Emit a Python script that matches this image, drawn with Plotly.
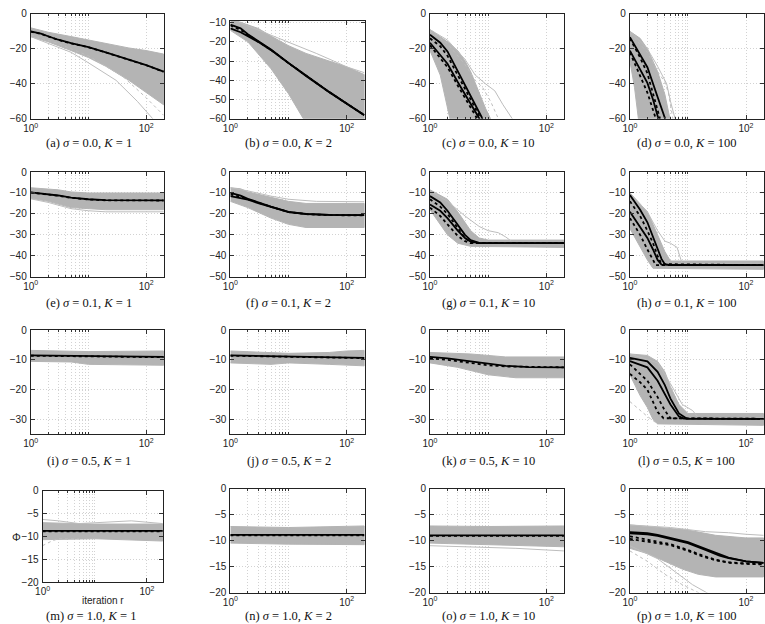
import plotly.graph_objects as go

W, H = 765, 624

# ---------------- labels / axes -----------------
sigmas = [0.0, 0.1, 0.5, 1.0]
Ks = [1, 2, 10, 100]
letters = "abcdefghijklmnop"
x_tick_vals = [1, 100]
x_tick_text = ["10<sup>0</sup>", "10<sup>2</sup>"]
x_minor_grid = [2, 3, 4, 5, 6, 7, 8, 9, 10]
y_ticks_row1 = [0, -20, -40, -60]
y_ticks_b = [-10, -20, -30, -40, -50, -60]
y_ticks_row2 = [0, -10, -20, -30, -40, -50]
y_ticks_row3 = [0, -10, -20, -30]
y_ticks_row4 = [0, -5, -10, -15, -20]
y_range_row1 = [-60, 0]
y_range_b = [-60, -9]
y_range_row2 = [-50, 0]
y_range_row3 = [-35, 0]
y_range_row4 = [-20, 0]
x_label = "iteration r"
y_label = "Φ"

# ---------------- data -------------------------------------
# (a) sigma 0.0, K 1
a_hi_x = [1, 2, 5, 10, 20, 50, 100, 200]; a_hi_y = [-8, -10.5, -13, -15, -17, -19.5, -21, -23]
a_lo_x = [1, 2, 5, 10, 20, 50, 100, 200]; a_lo_y = [-13, -16, -21, -25, -30, -38, -45, -52]
a_extra = [([1, 5, 10, 30, 70, 130], [-13, -22, -28, -38, -50, -60]),
           ([1, 3, 10, 40, 100, 200], [-12, -17, -24, -36, -48, -58])]
a_solid = [([1, 1.5, 2, 3, 5, 10, 20, 50, 100, 200], [-10, -11.3, -12.8, -14.8, -16.8, -19, -22, -26, -29.3, -33])]
a_dotted = [([1, 1.5, 2, 3, 5, 10, 20, 50, 100, 200], [-10.2, -11.4, -12.9, -14.9, -16.9, -19.1, -22.1, -26.1, -29.4, -33.1])]

# (b) sigma 0.0, K 2
b_hi_x = [1, 2, 3, 5, 10, 20, 50, 100, 200]; b_hi_y = [-8, -11, -13, -17, -22, -26, -30, -33, -37]
b_lo_x = [1, 2, 3, 5, 10, 18, 200]; b_lo_y = [-14, -20, -26, -34, -47, -60, -60]
b_extra = [([1, 10, 30, 60, 100, 200], [-8, -20, -26, -30, -33, -36])]
b_solid = [([1, 1.5, 2, 3, 5, 10, 20, 50, 100, 200], [-11, -13, -16, -19.5, -24, -31, -37.5, -46, -52, -58]),
           ([1, 1.5, 2, 3, 5, 10, 20, 50, 100, 200], [-13, -15, -17, -20, -24.3, -31.2, -37.7, -46.2, -52.2, -58.2])]
b_dotted = [([1, 1.5, 2, 3, 5, 10, 20, 50, 100, 200], [-11.5, -13.8, -16.4, -19.8, -24.2, -31.1, -37.6, -46.1, -52.1, -58.1])]

# (c) sigma 0.0, K 10
c_hi_x = [1, 2, 3, 4, 5, 7, 9, 11]; c_hi_y = [-9, -16, -21, -27, -33, -45, -54, -60]
c_lo_x = [1, 1.5, 2.2]; c_lo_y = [-21, -35, -60]
c_extra = [([1, 2, 4, 6, 9, 13, 18, 26], [-9, -15, -26, -35, -40, -44, -52, -60]),
           ([1, 2, 4, 6, 8, 11, 15], [-10, -17, -29, -38, -42, -50, -60])]
c_solid = [([1, 1.5, 2, 3, 5, 8], [-12, -16.5, -21.5, -32.5, -47, -60]),
           ([1, 1.5, 2, 3, 5, 7.1], [-16.5, -23.5, -28.5, -39, -51.5, -60])]
c_dotted = [([1, 1.5, 2, 3, 5, 7.5], [-14, -18.5, -24, -35, -49, -60]),
            ([1, 1.5, 2, 3, 5, 6.5], [-18, -25, -30.5, -41, -54, -60])]

# (d) sigma 0.0, K 100
d_hi_x = [1, 1.5, 2, 3, 4, 4.9]; d_hi_y = [-10, -14, -20, -33, -46, -60]
d_lo_x = [1, 1.2, 1.4]; d_lo_y = [-27, -42, -60]
d_extra = [([1, 2, 3, 4.3, 5, 6], [-10, -20, -30, -40, -50, -60]),
           ([1, 2, 3, 4, 4.6, 5.5], [-11, -22, -33, -39, -45, -60])]
d_solid = [([1, 1.5, 2, 3, 4.05], [-13.3, -23, -30.5, -47.5, -60]),
           ([1, 1.5, 2, 2.5, 3.1], [-21, -32, -39.5, -49, -60])]
d_dotted = [([1, 1.5, 2, 2.5, 3.3], [-14, -25, -34, -45, -60]),
            ([1, 1.5, 2, 2.8], [-22, -35, -45, -60])]

# (e) sigma 0.1, K 1
e_hi_x = [1, 3, 5, 10, 200]; e_hi_y = [-7.5, -8.5, -9.5, -10, -10]
e_lo_x = [1, 2, 5, 10, 20, 200]; e_lo_y = [-12.5, -14, -17, -17.5, -18, -18]
e_extra = [([1, 2, 5, 10, 20, 200], [-12.8, -14.5, -17.5, -18.5, -19, -19])]
e_solid = [([1, 2, 3, 5, 10, 20, 50, 200], [-9.7, -10.5, -11.2, -12.2, -13, -13.4, -13.5, -13.5])]
e_dotted = [([1, 2, 3, 5, 10, 20, 50, 200], [-9.8, -10.6, -11.3, -12.3, -13.1, -13.5, -13.6, -13.6])]

# (f) sigma 0.1, K 2
f_hi_x = [1, 1.5, 2, 5, 10, 20, 200]; f_hi_y = [-7.5, -8, -9.5, -12, -14, -15, -15]
f_lo_x = [1, 2, 5, 10, 20, 200]; f_lo_y = [-14, -17, -22, -25, -26.5, -26.5]
f_extra = [([1, 2, 5, 10, 30, 200], [-7.5, -9, -11.5, -13, -14, -14.2])]
f_solid = [([1, 1.5, 2, 3, 5, 10, 20, 50, 200], [-10, -11.3, -12.8, -14.5, -16.5, -19, -20, -20.5, -20.6]),
           ([1, 1.5, 2, 3, 5, 10, 20, 50, 200], [-11.5, -12.3, -13.2, -14.8, -16.7, -19.1, -20.1, -20.5, -20.6])]
f_dotted = [([1, 1.5, 2, 3, 5, 10, 20, 50, 200], [-10.7, -11.8, -13, -14.7, -16.6, -19.1, -20.1, -20.6, -20.7])]

# (g) sigma 0.1, K 10
g_hi_x = [1, 2, 3, 4, 5, 7, 10, 200]; g_hi_y = [-8.5, -13, -19, -24, -28, -31.5, -32.5, -32.5]
g_lo_x = [1, 1.5, 2, 3, 5, 200]; g_lo_y = [-18, -25, -30, -34, -35.5, -36]
g_extra = [([1, 2, 4, 7, 10, 15, 20, 25], [-9, -14, -21, -26, -28, -29, -31, -33])]
g_solid = [([1, 1.5, 2, 3, 4, 5, 7, 10, 200], [-11.5, -14.5, -18.5, -25, -30, -32.5, -33.8, -34, -34]),
           ([1, 1.5, 2, 3, 4, 5, 7, 200], [-15.5, -18.5, -22, -28, -31.5, -33.3, -34, -34])]
g_dotted = [([1, 1.5, 2, 3, 4, 5, 7, 200], [-13, -16.5, -20, -27, -31.5, -33.5, -34, -34]),
            ([1, 1.5, 2, 3, 4, 5, 200], [-17, -21, -25, -30.5, -33, -34, -34])]

# (h) sigma 0.1, K 100
h_hi_x = [1, 2, 3, 4, 5, 200]; h_hi_y = [-10, -19, -30, -38, -42.5, -42.5]
h_lo_x = [1, 1.5, 2, 2.5, 200]; h_lo_y = [-27, -36, -42, -46, -46.5]
h_extra = [([1, 2, 3, 4, 5, 6.5, 8, 200], [-10, -19, -28, -33, -34, -36, -44, -44])]
h_solid = [([1, 1.5, 2, 3, 3.5, 4, 5, 200], [-11, -18, -24, -36.5, -41.5, -44, -44.5, -44.5]),
           ([1, 1.5, 2, 2.5, 3, 3.5, 200], [-19, -26, -31.5, -37, -42, -44.2, -44.5])]
h_dotted = [([1, 1.5, 2, 2.5, 3, 3.5, 200], [-14, -21, -28, -34, -40, -44, -44.5]),
            ([1, 1.5, 2, 2.5, 2.8, 200], [-22, -30, -37, -42.5, -44.5, -44.5])]

# (i) sigma 0.5, K 1
i_hi_x = [1, 10, 200]; i_hi_y = [-6.8, -7.2, -7]
i_lo_x = [1, 5, 10, 200]; i_lo_y = [-10.5, -10.7, -11.5, -11.8]
i_extra = []
i_solid = [([1, 10, 200], [-8.5, -8.8, -9.0])]
i_dotted = [([1, 10, 200], [-8.6, -8.9, -9.1])]

# (j) sigma 0.5, K 2
j_hi_x = [1, 10, 50, 100, 200]; j_hi_y = [-7, -7.8, -7.5, -7, -6.8]
j_lo_x = [1, 5, 10, 50, 200]; j_lo_y = [-11, -11.5, -11, -11.5, -12]
j_extra = []
j_solid = [([1, 10, 200], [-8.5, -8.9, -9.3])]
j_dotted = [([1, 10, 200], [-8.6, -9.0, -9.4])]

# (k) sigma 0.5, K 10
k_hi_x = [1, 5, 20, 200]; k_hi_y = [-7.5, -8, -9, -9]
k_lo_x = [1, 3, 10, 30, 200]; k_lo_y = [-11, -12.5, -15, -16, -16]
k_extra = []
k_solid = [([1, 2, 5, 10, 20, 50, 200], [-9, -9.5, -10.5, -11.2, -12, -12.4, -12.5])]
k_dotted = [([1, 2, 5, 10, 20, 50, 200], [-9.5, -10, -11, -11.8, -12.2, -12.4, -12.5])]

# (l) sigma 0.5, K 100
l_hi_x = [1, 2, 3, 4, 5, 7, 10, 200]; l_hi_y = [-8, -8.5, -10.5, -14, -19, -25, -28, -28]
l_lo_x = [1, 1.5, 2, 2.5, 3, 200]; l_lo_y = [-15, -22, -26, -30, -31.5, -32]
l_extra = [([1, 3, 5, 8, 12, 16], [-8, -11, -18, -25, -27, -30]),
           ([1, 1.5, 2, 3], [-24, -27, -29, -31.5])]
l_solid = [([1, 2, 3, 4, 5, 7, 9.5, 200], [-9.3, -10.5, -14, -18.5, -23, -28, -29.7, -29.8]),
           ([1, 2, 3, 4, 5, 7, 8.5, 200], [-10.4, -12.5, -17, -21.5, -25, -29, -29.7, -29.8])]
l_dotted = [([1, 2, 3, 4, 5, 200], [-11.5, -17, -22.5, -27, -29.6, -29.8]),
            ([1, 1.5, 2, 2.5, 3, 3.8, 200], [-14.7, -17.5, -20, -24, -27.5, -29.6, -29.8])]

# (m) sigma 1.0, K 1
m_hi_x = [1, 10, 200]; m_hi_y = [-7, -7.3, -7.3]
m_lo_x = [1, 10, 200]; m_lo_y = [-10.7, -10.5, -11]
m_extra = [([1, 2, 5, 20, 50, 200], [-6.3, -6.6, -7.2, -6.8, -6.6, -7.2]),
           ([1, 1.5, 2, 5], [-12, -11, -10.5, -10.5])]
m_solid = [([1, 10, 200], [-8.8, -8.8, -8.8])]
m_dotted = [([1, 10, 200], [-8.9, -8.9, -8.9])]

# (n) sigma 1.0, K 2
n_hi_x = [1, 10, 200]; n_hi_y = [-7.3, -7.5, -7.2]
n_lo_x = [1, 10, 200]; n_lo_y = [-10.5, -10.7, -10.8]
n_extra = []
n_solid = [([1, 10, 200], [-8.9, -8.9, -8.9])]
n_dotted = [([1, 10, 200], [-9.0, -9.0, -9.0])]

# (o) sigma 1.0, K 10
o_hi_x = [1, 10, 200]; o_hi_y = [-7.2, -7.3, -7.2]
o_lo_x = [1, 10, 200]; o_lo_y = [-10.5, -10.8, -11.2]
o_extra = [([1, 30, 200], [-11, -11.5, -12])]
o_solid = [([1, 10, 200], [-9, -9, -9])]
o_dotted = [([1, 10, 200], [-9.1, -9.1, -9.1])]

# (p) sigma 1.0, K 100
p_hi_x = [1, 3, 10, 30, 100, 200]; p_hi_y = [-7, -7.5, -8, -9, -9.5, -9.5]
p_lo_x = [1, 2, 4, 8, 15, 30, 100, 200]; p_lo_y = [-11.5, -12.5, -14, -15.5, -16.5, -17, -17, -17]
p_extra = [([1, 5, 20, 50, 100, 200], [-7, -7.5, -8.3, -8.5, -8.8, -9]),
           ([1, 2, 4, 8, 15, 30], [-12, -14, -16.5, -18.5, -20, -21]),
           ([1, 3, 6, 12, 25], [-11, -13.5, -16, -18.5, -20.5])]
p_solid = [([1, 2, 3, 5, 10, 20, 35, 50, 100, 200], [-8.6, -8.8, -9.1, -9.7, -10.5, -11.8, -12.9, -13.4, -14, -14.3]),
           ([1, 2, 3, 5, 10, 20, 35, 50, 100, 200], [-8.4, -8.6, -8.9, -9.5, -10.3, -11.6, -12.7, -13.3, -14, -14.3])]
p_dotted = [([1, 2, 3, 5, 10, 18, 30, 52, 100, 200], [-9.2, -9.9, -10.3, -10.7, -11.8, -12.9, -13.7, -14.2, -14.4, -14.5]),
            ([1, 2, 3, 5, 10, 18, 30, 52, 100, 200], [-9.7, -10.2, -10.5, -10.9, -12, -13.1, -13.8, -14.3, -14.5, -14.6])]

G = globals()
panels = []
for L in letters:
    panels.append(dict(hi=(G[L + "_hi_x"], G[L + "_hi_y"]), lo=(G[L + "_lo_x"], G[L + "_lo_y"]),
                       extra=G[L + "_extra"], solid=G[L + "_solid"], dotted=G[L + "_dotted"]))

# ---------------- layout geometry (pixels) -----------------
col_px = [(23, 158), (225, 361), (427, 563), (629.3, 765)]
row_px = [(8, 115), (169.3, 276), (330.5, 436.7), (492, 598)]
cap_top = [131, 294, 455, 613]
cap_dx = -9

GRAY = "#b4b4b4"
GRID = "#d2d2d2"
GDASH = "1px,2px"
TICKFONT = dict(family="Liberation Sans, Arial, sans-serif", size=10, color="#222")

fig = go.Figure()
layout = dict(width=W, height=H, margin=dict(l=0, r=0, t=0, b=0),
              paper_bgcolor="white", plot_bgcolor="white", showlegend=False)
annotations = []

for idx in range(16):
    r, c = divmod(idx, 4)
    n = idx + 1
    L = letters[idx]
    xs = "" if n == 1 else str(n)
    x0, x1 = col_px[c]
    y0, y1 = row_px[r]
    if L == "m":
        x0, x1 = 35, 157
        y0, y1 = 494, 587.7
    if L == "b":
        y0 = 15
    if r == 0:
        yr, yt = (y_range_b, y_ticks_b) if L == "b" else (y_range_row1, y_ticks_row1)
    elif r == 1:
        yr, yt = y_range_row2, y_ticks_row2
    elif r == 2:
        yr, yt = y_range_row3, y_ticks_row3
    else:
        yr, yt = y_range_row4, y_ticks_row4

    layout["xaxis" + xs] = dict(
        type="log", range=[0, 2.31], domain=[x0 / W, x1 / W], anchor="y" + xs,
        tickvals=x_tick_vals, ticktext=x_tick_text, tickfont=TICKFONT,
        showgrid=True, gridcolor=GRID, griddash=GDASH, gridwidth=1,
        minor=dict(tickvals=x_minor_grid, showgrid=True, gridcolor=GRID, griddash=GDASH,
                   gridwidth=1, ticks="inside", ticklen=2, tickcolor="#333"),
        showline=True, mirror="ticks", linecolor="#222", linewidth=1,
        ticks="inside", ticklen=4, tickcolor="#333", zeroline=False,
    )
    layout["yaxis" + xs] = dict(
        range=yr, domain=[1 - y1 / H, 1 - y0 / H], anchor="x" + xs,
        tickvals=yt, tickfont=TICKFONT, ticklabelstandoff=1,
        showgrid=True, gridcolor=GRID, griddash=GDASH, gridwidth=1,
        showline=True, mirror="ticks", linecolor="#222", linewidth=1,
        ticks="inside", ticklen=4, tickcolor="#333", zeroline=False,
    )

    P = panels[idx]
    hx, hy = P["hi"]
    lx, ly = P["lo"]
    fig.add_trace(go.Scatter(x=list(hx) + list(lx)[::-1], y=list(hy) + list(ly)[::-1],
                             fill="toself", fillcolor=GRAY, mode="lines",
                             line=dict(color=GRAY, width=1), xaxis="x" + xs, yaxis="y" + xs,
                             hoverinfo="skip"))
    for k, (ex, ey) in enumerate(P["extra"]):
        fig.add_trace(go.Scatter(x=ex, y=ey, mode="lines",
                                 line=dict(color="#bdbdbd", width=1, dash="dot" if k % 2 else "solid"),
                                 xaxis="x" + xs, yaxis="y" + xs))
    for sx, sy in P["solid"]:
        fig.add_trace(go.Scatter(x=sx, y=sy, mode="lines", line=dict(color="black", width=1.8),
                                 xaxis="x" + xs, yaxis="y" + xs))
    for dx, dy in P["dotted"]:
        fig.add_trace(go.Scatter(x=dx, y=dy, mode="lines",
                                 line=dict(color="black", width=1.8, dash="dot"),
                                 xaxis="x" + xs, yaxis="y" + xs))

    cx = (x0 + x1) / 2 + cap_dx
    if L == "m":
        cx = 84
    if L in ("d", "h", "l", "p"):
        cx = 687
    text = f"({L}) <i>σ</i> = {sigmas[r]:.1f}, <i>K</i> = {Ks[c]}"
    annotations.append(dict(text=text, x=cx / W, y=1 - cap_top[r] / H, xref="paper", yref="paper",
                            showarrow=False, xanchor="center", yanchor="top",
                            font=dict(family="Liberation Serif, Times New Roman, serif", size=12.5,
                                      color="#111")))

annotations.append(dict(text=x_label, x=96 / W, y=1 - 606 / H, xref="paper", yref="paper",
                        showarrow=False, xanchor="center", yanchor="middle",
                        font=dict(family="Liberation Sans, Arial, sans-serif", size=10, color="#222")))
annotations.append(dict(text=y_label, x=9 / W, y=1 - 541 / H, xref="paper", yref="paper",
                        showarrow=False, xanchor="center", yanchor="middle",
                        font=dict(family="Liberation Sans, Arial, sans-serif", size=11, color="#222")))
layout["annotations"] = annotations
fig.update_layout(**layout)
fig.write_html("out.html")
